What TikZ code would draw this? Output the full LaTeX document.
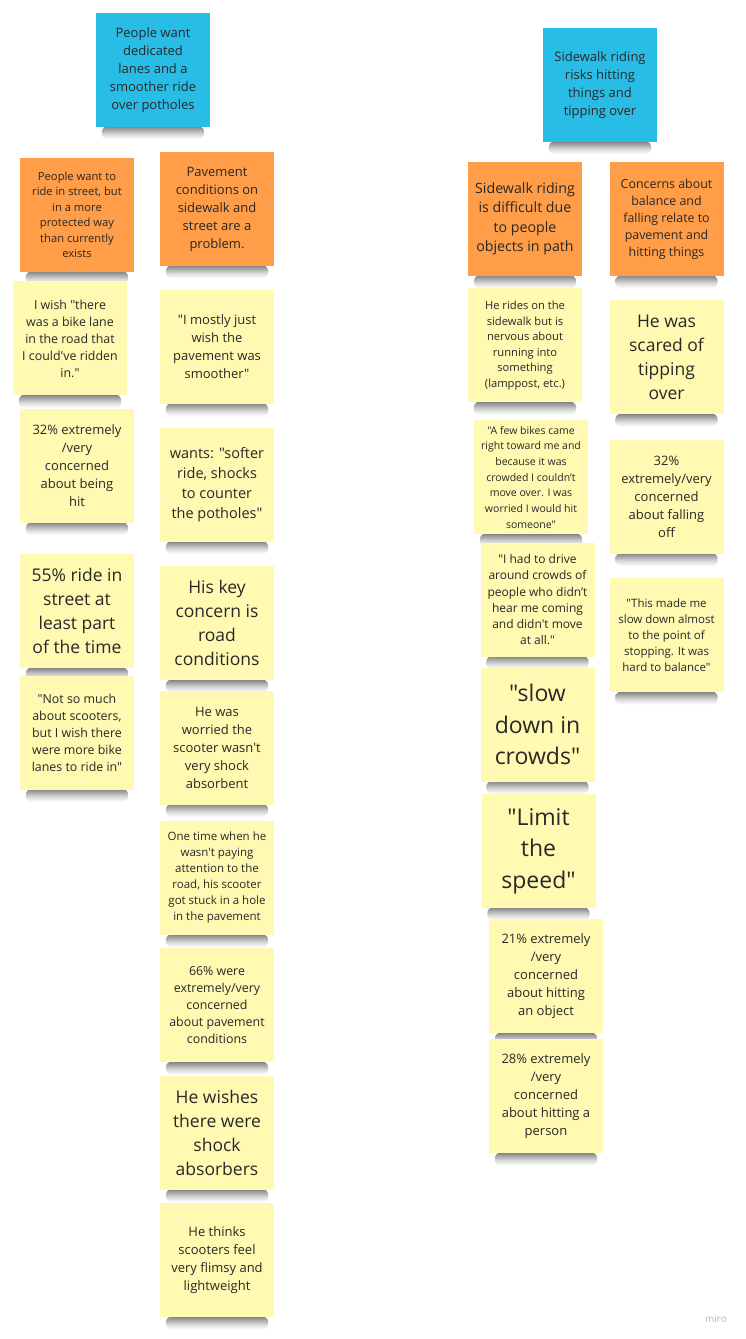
\documentclass[tikz,border=0pt]{standalone}
\usepackage{fontspec}
\setmainfont{Open Sans}[Ligatures=TeXOff]
\usepackage{tikz}
\usetikzlibrary{positioning}
\usetikzlibrary{calc,backgrounds}
\definecolor{topicblue}{RGB}{40,189,231}
\definecolor{themeorange}{RGB}{255,157,72}
\definecolor{cardyellow}{RGB}{255,249,177}
\definecolor{inkgray}{RGB}{40,40,40}
\pgfdeclareverticalshading{shadowband}{100bp}{color(0bp)=(white); color(25bp)=(white);
                color(45bp)=(white!85!black); color(65bp)=(white!62!black);
                color(75bp)=(white!50!black); color(100bp)=(white!50!black)}
\tikzstyle{sticky} = [rectangle, minimum width=114pt, minimum height=114pt,
                inner sep=0pt, align=center, text=inkgray]
\tikzstyle{topic} = [sticky, fill=topicblue]
\tikzstyle{theme} = [sticky, fill=themeorange]
\tikzstyle{card} = [sticky, fill=cardyellow]
\tikzstyle{fsxs} = [font=\fontsize{10.5}{15.7}\selectfont]
\tikzstyle{fss} = [font=\fontsize{11.2}{15.5}\selectfont]
\tikzstyle{fsm} = [font=\fontsize{12.4}{17}\selectfont]
\tikzstyle{fsn} = [font=\fontsize{13}{18}\selectfont]
\tikzstyle{fsl} = [font=\fontsize{14.2}{19.5}\selectfont]
\tikzstyle{fsxl} = [font=\fontsize{17.5}{24}\selectfont]
\tikzstyle{fshuge} = [font=\fontsize{23}{31.5}\selectfont]

\begin{document}
\begin{tikzpicture}[x=1pt, y=-1pt]
            \useasboundingbox (0,0) rectangle (746,1339);
            \node[topic, fsn](lanes) at (153,70){People want\\dedicated\\lanes and a\\smoother ride\\over potholes};
            \node[theme, fss](street) at (77,215){People want to\\ride in street, but\\in a more\\protected way\\than currently\\exists};
            \node[theme, fsn](pavement) at (217,209){Pavement\\conditions on\\sidewalk and\\street are a\\problem.};
            \node[card, fsm, below=9pt of street, xshift=-7pt](wishlane){I wish "there\\was a bike lane\\in the road that\\I could've ridden\\in."};
            \node[card, fsn, below=13pt of wishlane, xshift=7pt](hit){32\% extremely\\/very\\concerned\\about being\\hit};
            \node[card, fsxl, below=31pt of hit](ridestreet){55\% ride in\\street at\\least part\\of the time};
            \node[card, fsm, below=7pt of ridestreet](notsomuch){"Not so much\\about scooters,\\but I wish there\\were more bike\\lanes to ride in"};
            \node[card, fsn, below=23.5pt of pavement](smoother){"I mostly just\\wish the\\pavement was\\smoother"};
            \node[card, font=\fontsize{14.5}{20}\selectfont, below=23.5pt of smoother](softer){wants: "softer\\ride, shocks\\to counter\\the potholes"};
            \node[card, fsxl, below=24pt of softer](keyconcern){His key\\concern is\\road\\conditions};
            \node[card, fsn, below=10pt of keyconcern](worried){He was\\worried the\\scooter wasn't\\very shock\\absorbent};
            \node[card, font=\fontsize{11.5}{16}\selectfont, below=16pt of worried](onetime){One time when he\\wasn't paying\\attention to the\\road, his scooter\\got stuck in a hole\\in the pavement};
            \node[card, fsm, below=13pt of onetime](pavecond){66\% were\\extremely/very\\concerned\\about pavement\\conditions};
            \node[card, fsxl, below=13pt of pavecond](shocks){He wishes\\there were\\shock\\absorbers};
            \node[card, fsn, below=13pt of shocks](flimsy){He thinks\\scooters feel\\very flimsy and\\lightweight};
            \node[topic, fsn](sidewalk) at (600,85){Sidewalk riding\\risks hitting\\things and\\tipping over};
            \node[theme, fsl](difficult) at (525,219){Sidewalk riding\\is difficult due\\to people\\objects in path};
            \node[theme, fsm](balance) at (666.5,219){Concerns about\\balance and\\falling relate to\\pavement and\\hitting things};
            \node[card, fss, below=12pt of difficult](lamppost){He rides on the\\sidewalk but is\\nervous about\\running into\\something\\(lamppost, etc.)};
            \node[card, fsxs, below=17.5pt of lamppost, xshift=6pt](fewbikes){"A few bikes came\\right toward me and\\because it was\\crowded I couldn’t\\move over. I was\\worried I would hit\\someone"};
            \node[card, font=\fontsize{12}{16.3}\selectfont, below=8pt of fewbikes, xshift=6.5pt](crowds){"I had to drive\\around crowds of\\people who didn’t\\hear me coming\\and didn't move\\at all."};
            \node[card, fshuge, below=10.5pt of crowds](slowdown){"slow\\down in\\crowds"};
            \node[card, fshuge, below=12pt of slowdown, xshift=1pt](limit){"Limit\\the\\speed"};
            \node[card, fsn, below=11pt of limit, xshift=7.5pt](object){21\% extremely\\/very\\concerned\\about hitting\\an object};
            \node[card, fsn, below=5.5pt of object](person){28\% extremely\\/very\\concerned\\about hitting a\\person};
            \node[card, fsxl, below=24pt of balance](tipping){He was\\scared of\\tipping\\over};
            \node[card, fsn, below=25pt of tipping](falling){32\%\\extremely/very\\concerned\\about falling\\off};
            \node[card, font=\fontsize{11.5}{16}\selectfont, below=24pt of falling](stopping){"This made me\\slow down almost\\to the point of\\stopping. It was\\hard to balance"};
            \node[text=black!28, font=\fontsize{10}{12}\selectfont](miro) at (716,1319){miro};
            \begin{scope}[on background layer]
                \fill[white] (0,0) rectangle (746,1339);
                \foreach \n in {lanes,street,pavement,wishlane,hit,ridestreet,notsomuch,smoother,softer,keyconcern,worried,onetime,pavecond,shocks,flimsy,sidewalk,difficult,balance,lamppost,fewbikes,crowds,slowdown,limit,object,person,tipping,falling,stopping}
                    \shade[shading=shadowband, rounded corners=6pt] ($(\n.south west)+(6pt,1pt)$) rectangle ($(\n.south east)+(-6pt,-12pt)$);
            \end{scope}
        \end{tikzpicture}
\end{document}
